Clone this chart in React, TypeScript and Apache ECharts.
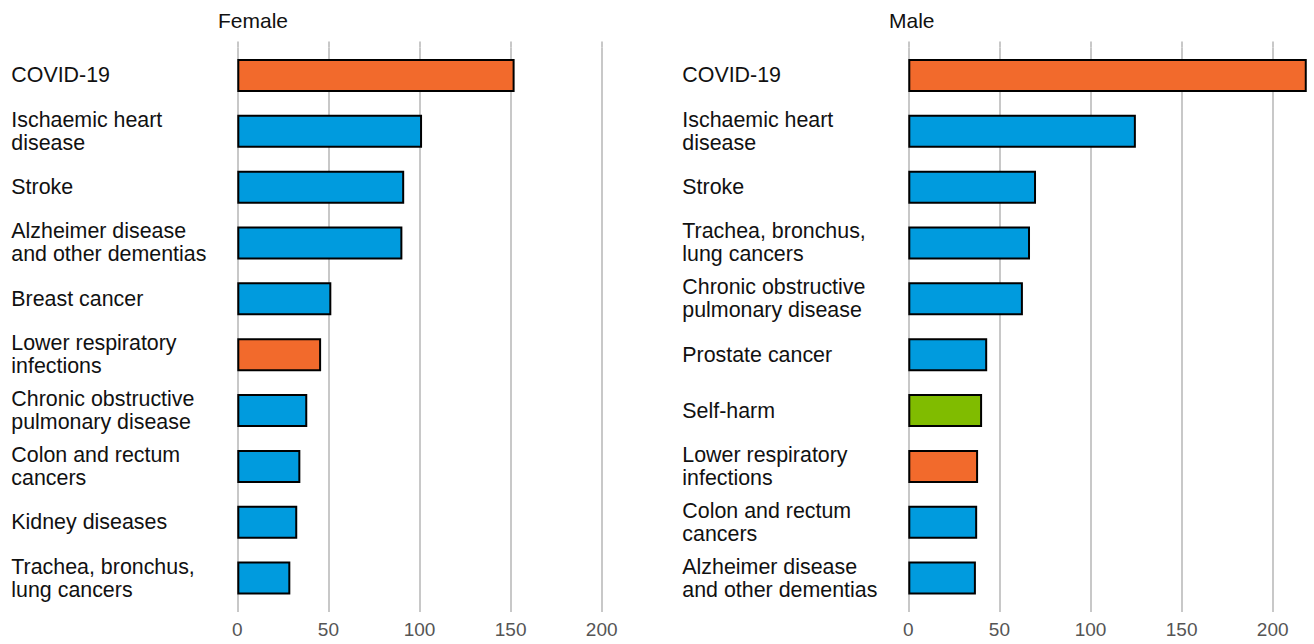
import React, { useEffect, useRef } from "react";
import * as echarts from "echarts";

const femaleCauses = [
  "COVID-19",
  "Ischaemic heart\ndisease",
  "Stroke",
  "Alzheimer disease\nand other dementias",
  "Breast cancer",
  "Lower respiratory\ninfections",
  "Chronic obstructive\npulmonary disease",
  "Colon and rectum\ncancers",
  "Kidney diseases",
  "Trachea, bronchus,\nlung cancers",
];
const femaleValues = [152.2, 101.4, 91.6, 90.6, 51.6, 46, 38.4, 34.6, 32.9, 29.1];
const femaleGroups = ["comm", "ncd", "ncd", "ncd", "ncd", "comm", "ncd", "ncd", "ncd", "ncd"];

const maleCauses = [
  "COVID-19",
  "Ischaemic heart\ndisease",
  "Stroke",
  "Trachea, bronchus,\nlung cancers",
  "Chronic obstructive\npulmonary disease",
  "Prostate cancer",
  "Self-harm",
  "Lower respiratory\ninfections",
  "Colon and rectum\ncancers",
  "Alzheimer disease\nand other dementias",
];
const maleValues = [218.7, 124.9, 70.1, 66.8, 62.9, 43.3, 40.5, 38.3, 37.8, 37.1];
const maleGroups = ["comm", "ncd", "ncd", "ncd", "ncd", "ncd", "inj", "comm", "ncd", "ncd"];

const panelTitles = ["Female", "Male"];

const groupColor: Record<string, string> = {
  comm: "#f26a2c",
  ncd: "#009bde",
  inj: "#80bc00",
};

const FONT = "'Liberation Sans', Arial, sans-serif";
const GRID_COLOR = "#c8c8c8";

export default function App() {
  const ref = useRef<HTMLDivElement>(null);
  useEffect(() => {
    if (!ref.current) return;
    const chart = echarts.init(ref.current, undefined, { renderer: "svg" });
    const top = 47.5;
    const height = 558.5;
    const grids = [
      { left: 237.3, top, width: 364.4, height },
      { left: 908.3, top, width: 455.5, height },
    ];
    const maxes = [200, 250];
    const mkX = (gi: number) => [
      {
        type: "value",
        gridIndex: gi,
        min: 0,
        max: maxes[gi],
        interval: 50,
        position: "bottom",
        axisLine: { show: false },
        axisTick: { show: true, length: 6, lineStyle: { color: GRID_COLOR, width: 2 } },
        axisLabel: {
          color: "#555555",
          fontSize: 19,
          fontFamily: FONT,
          margin: 14,
          showMaxLabel: gi === 0,
        },
        splitLine: { show: true, lineStyle: { color: GRID_COLOR, width: 2 } },
      },
      {
        type: "value",
        gridIndex: gi,
        min: 0,
        max: maxes[gi],
        interval: 50,
        position: "top",
        axisLine: { show: false },
        axisTick: { show: true, length: 6, lineStyle: { color: GRID_COLOR, width: 2 } },
        axisLabel: { show: false },
        splitLine: { show: false },
      },
    ];
    const mkY = (gi: number, cats: string[]) => ({
      type: "category",
      gridIndex: gi,
      data: cats,
      inverse: true,
      axisLine: { show: false },
      axisTick: { show: false },
      splitLine: { show: false },
      axisLabel: {
        align: "left",
        margin: 226,
        color: "#111111",
        fontSize: 21.4,
        lineHeight: 23,
        fontFamily: FONT,
      },
    });
    const mkSeries = (gi: number, vals: number[], groups: string[]) => ({
      type: "bar",
      xAxisIndex: gi * 2,
      yAxisIndex: gi,
      barWidth: 33,
      data: vals.map((v, i) => ({
        value: v,
        itemStyle: { color: groupColor[groups[i]] },
      })),
      itemStyle: { borderColor: "#000000", borderWidth: 2 },
    });
    chart.setOption({
      animation: false,
      title: panelTitles.map((t, i) => ({
        text: t,
        left: i === 0 ? 213 : 884,
        top: 5,
        textStyle: { fontSize: 21, fontWeight: "normal", color: "#111111", fontFamily: FONT },
      })),
      grid: grids,
      xAxis: [...mkX(0), ...mkX(1)],
      yAxis: [mkY(0, femaleCauses), mkY(1, maleCauses)],
      series: [mkSeries(0, femaleValues, femaleGroups), mkSeries(1, maleValues, maleGroups)],
    });
    return () => chart.dispose();
  }, []);
  return (
    <div style={{ position: "fixed", left: 0, top: 0, width: 1314, height: 644, overflow: "hidden", background: "#fff" }}>
      <div ref={ref} style={{ width: 1420, height: 644 }} />
    </div>
  );
}
